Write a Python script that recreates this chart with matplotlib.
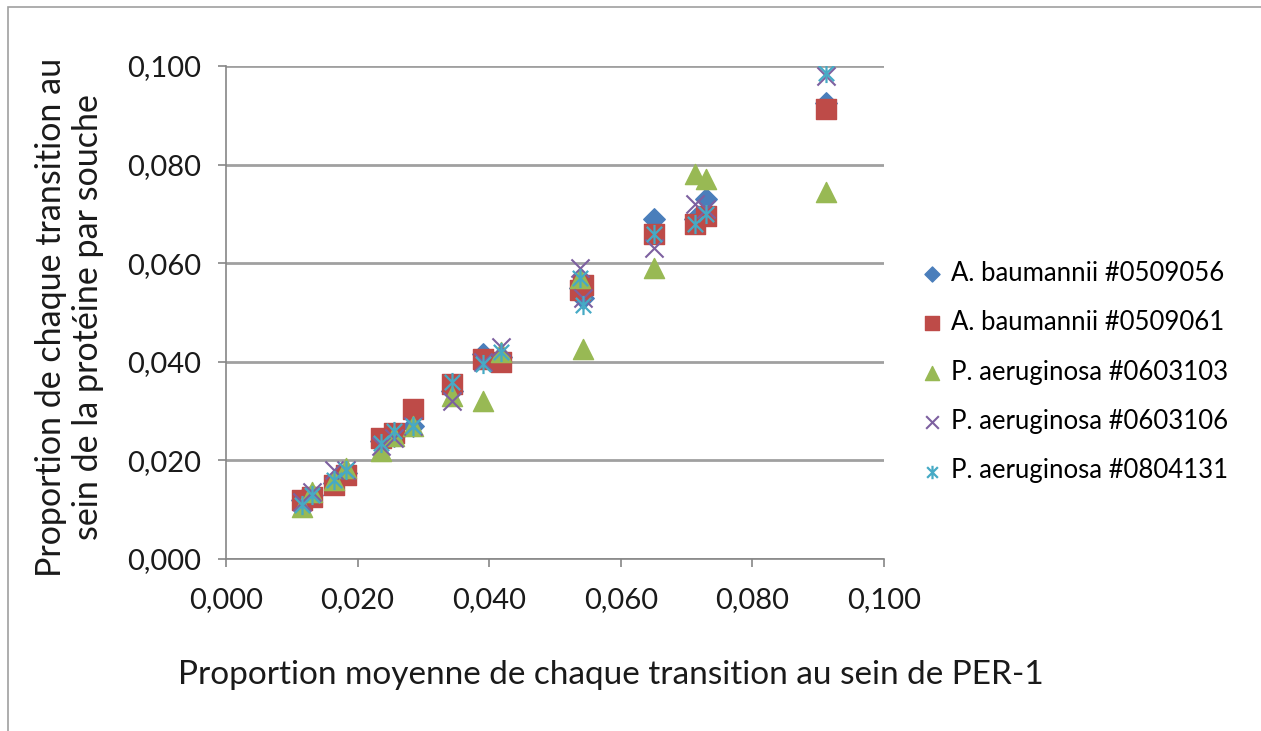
import numpy as np
import matplotlib
matplotlib.use("Agg")
import matplotlib.pyplot as plt
from matplotlib.path import Path
from matplotlib.ticker import FuncFormatter

# data
x = [0.0116, 0.0131, 0.0164, 0.0182, 0.0235, 0.0256, 0.0285, 0.0343,
     0.0390, 0.0418, 0.0538, 0.0542, 0.0650, 0.0713, 0.0729, 0.0912]
ab_056 = [0.0120, 0.0130, 0.0155, 0.0175, 0.0240, 0.0250, 0.0270, 0.0340,
          0.0415, 0.0410, 0.0550, 0.0530, 0.0690, 0.0690, 0.0730, 0.0925]
ab_061 = [0.0120, 0.0125, 0.0150, 0.0170, 0.0245, 0.0255, 0.0305, 0.0355,
          0.0405, 0.0400, 0.0545, 0.0555, 0.0660, 0.0680, 0.0695, 0.0912]
pa_103 = [0.0105, 0.0135, 0.0160, 0.0185, 0.0220, 0.0250, 0.0270, 0.0330,
          0.0320, 0.0420, 0.0570, 0.0425, 0.0590, 0.0780, 0.0770, 0.0745]
pa_106 = [0.0115, 0.0135, 0.0180, 0.0180, 0.0230, 0.0245, 0.0270, 0.0320,
          0.0400, 0.0430, 0.0590, 0.0530, 0.0630, 0.0720, 0.0710, 0.0980]
pa_131 = [0.0110, 0.0130, 0.0160, 0.0180, 0.0235, 0.0260, 0.0270, 0.0360,
          0.0395, 0.0420, 0.0570, 0.0515, 0.0660, 0.0680, 0.0700, 0.0985]

labels = ["A. baumannii #0509056", "A. baumannii #0509061",
          "P. aeruginosa #0603103", "P. aeruginosa #0603106",
          "P. aeruginosa #0804131"]
colors = ["#4A7EBB", "#BE4B48", "#98B954", "#7D60A0", "#46AAC5"]

# asterisk marker like Excel: an x with a vertical bar
star = Path([(-1, -1), (1, 1), (-1, 1), (1, -1), (0, -1.25), (0, 1.25)],
            [Path.MOVETO, Path.LINETO, Path.MOVETO, Path.LINETO,
             Path.MOVETO, Path.LINETO])

plt.rcParams['font.family'] = ['Lato', 'DejaVu Sans']

fig = plt.figure(figsize=(12.61, 7.31), dpi=100)
ax = fig.add_axes([0.1792, 0.2353, 0.5218, 0.6744])

ax.scatter(x, ab_056, marker='D', s=120, color=colors[0], label=labels[0], zorder=3)
ax.scatter(x, ab_061, marker='s', s=200, color=colors[1], label=labels[1], zorder=3)
ax.scatter(x, pa_103, marker='^', s=210, color=colors[2], label=labels[2], zorder=3)
ax.scatter(x, pa_106, marker='x', s=170, color=colors[3], linewidths=1.5,
           label=labels[3], zorder=3)
ax.scatter(x, pa_131, marker=star, s=190, color=colors[4], linewidths=1.6,
           label=labels[4], zorder=3)

ax.set_xlim(0, 0.1)
ax.set_ylim(0, 0.1)
ticks = np.arange(0, 0.1001, 0.02)
ax.set_xticks(ticks)
ax.set_yticks(ticks)
fmt = FuncFormatter(lambda v, p: f"{v:.3f}".replace('.', ','))
ax.xaxis.set_major_formatter(fmt)
ax.yaxis.set_major_formatter(fmt)
ax.tick_params(axis='both', labelsize=21, colors='#868686', labelcolor='#1a1a1a',
               length=6, width=1.2)
ax.tick_params(axis='x', pad=14)
ax.tick_params(axis='y', pad=12)

ax.grid(axis='y', color='#a0a0a0', linewidth=2)
ax.set_axisbelow(True)
for side in ['top', 'right']:
    ax.spines[side].set_visible(False)
for side in ['left', 'bottom']:
    ax.spines[side].set_color('#868686')
    ax.spines[side].set_linewidth(1.2)

ax.set_xlabel("Proportion moyenne de chaque transition au sein de PER-1",
              fontsize=24, color='#1a1a1a')
ax.xaxis.set_label_coords(0.585, -0.205)
ax.set_ylabel("Proportion de chaque transition au\nsein de la protéine par souche",
              fontsize=24.5, color='#1a1a1a', linespacing=1.2)
ax.yaxis.set_label_coords(-0.185, 0.49)

leg = fig.legend(loc='center left', bbox_to_anchor=(0.729, 0.491), frameon=False,
                 fontsize=18.5, labelspacing=0.95, handletextpad=0.25,
                 handlelength=1.0, markerscale=0.7, borderaxespad=0,
                 borderpad=0)

# outer chart frame
fig.patches.append(plt.Rectangle((0.006, -0.02), 1.1, 1.01, transform=fig.transFigure,
                                 fill=False, edgecolor='#a0a0a0', linewidth=1.2))

fig.savefig("out.png", dpi=100)
